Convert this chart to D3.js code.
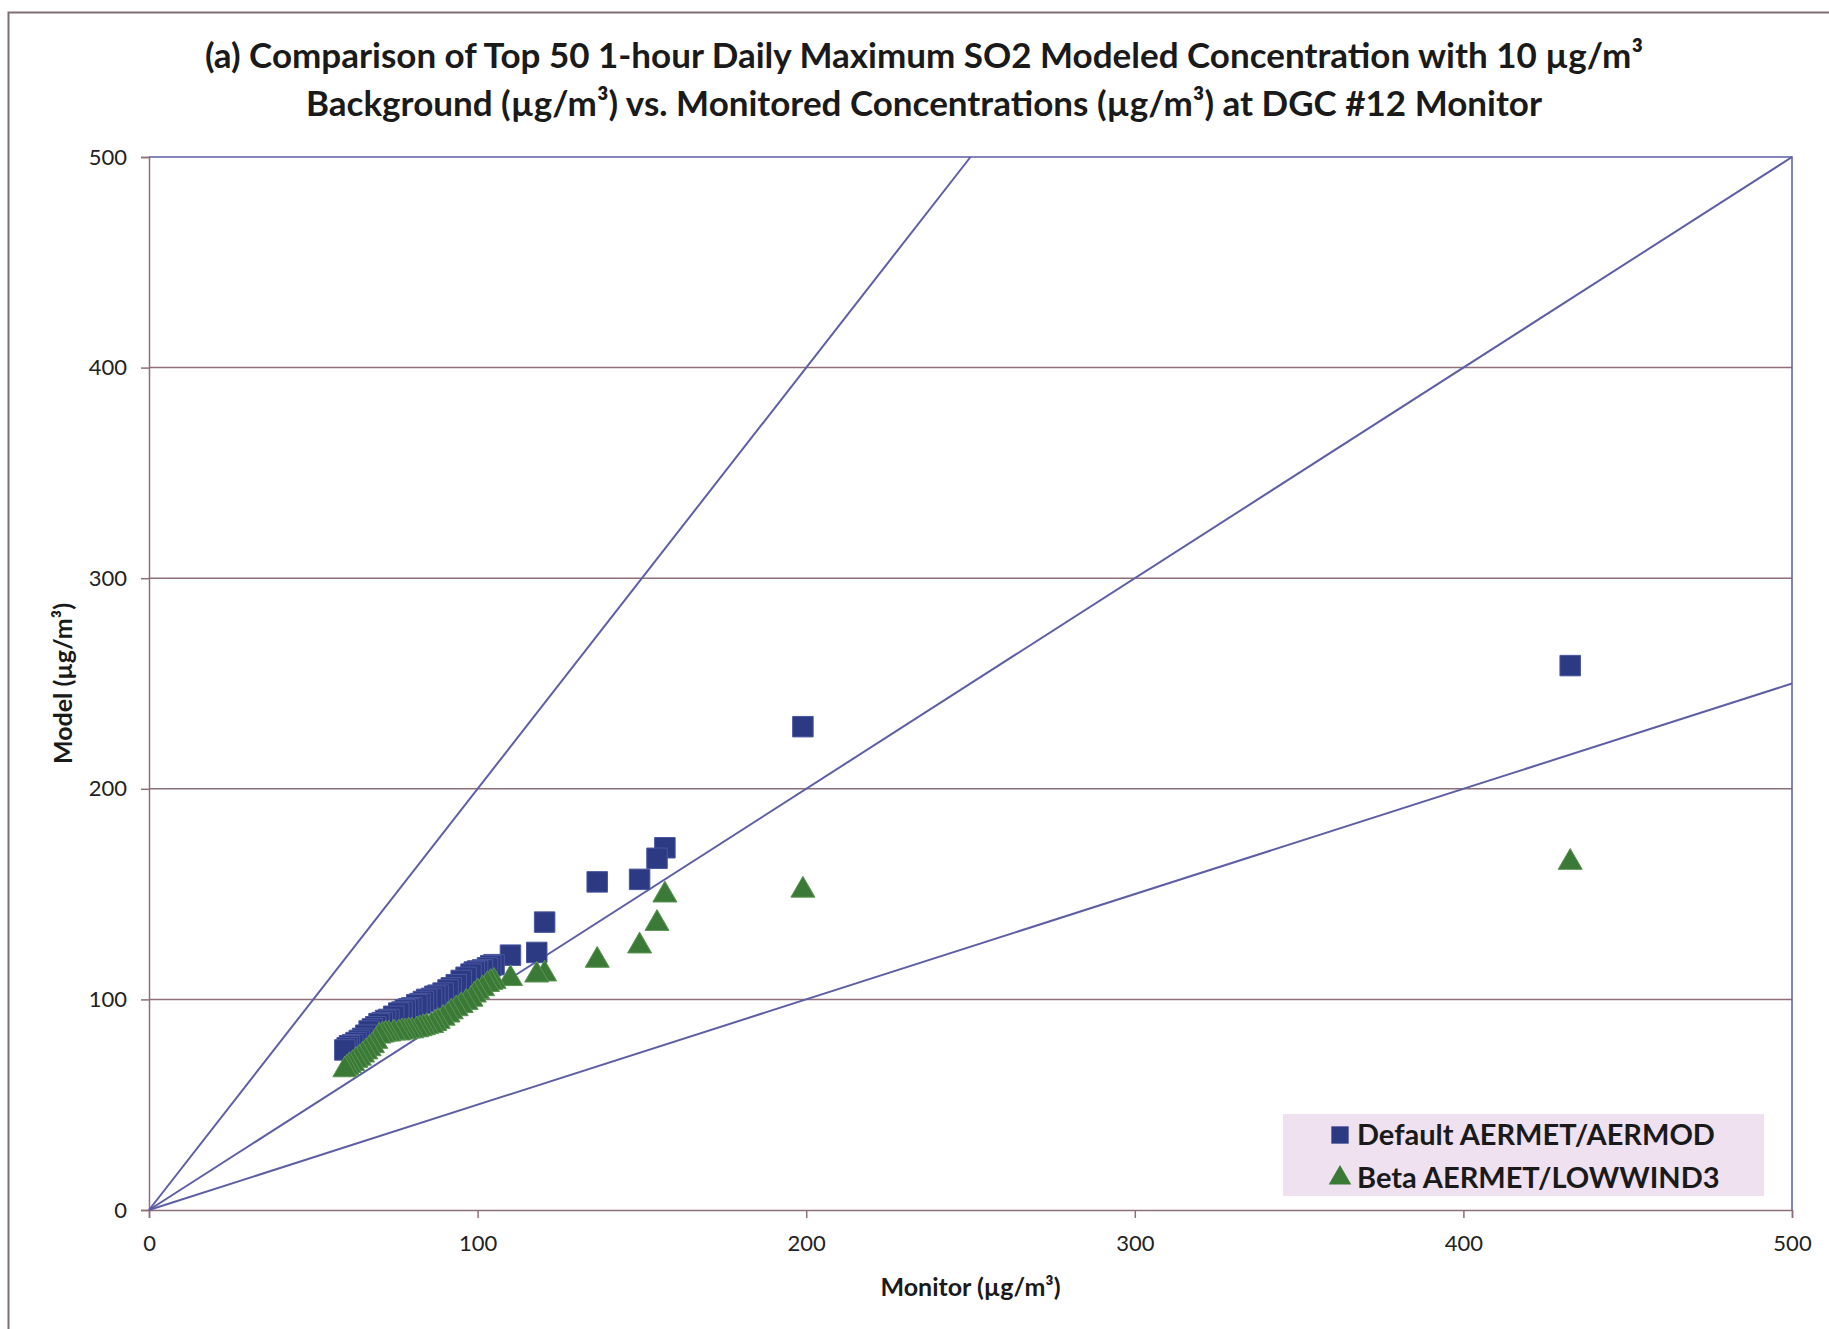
<!DOCTYPE html>
<html>
<head>
<meta charset="utf-8">
<script src="https://cdn.jsdelivr.net/npm/d3@7"></script>
<style>
  body { margin: 0; background: #fff; }
  svg { display: block; }
</style>
</head>
<body>
<div id="chart"></div>
<script>
// Monitor concentrations (ranked, µg/m³), shared by both series
const monitor = [432.5, 199, 157, 154.6, 149.3, 136.4, 120.4, 118, 110,
  105, 104, 103, 101.5, 100, 99, 98, 96.5, 95, 93.5, 92, 91, 89.5, 88, 87,
  86, 84.5, 83.5, 82.5, 81.5, 80, 79, 78, 77, 76, 74.5, 73, 72, 71, 70,
  69, 68, 67, 66, 65, 64, 63, 62, 61, 60.3, 59.6];

// Default AERMET/AERMOD modeled values
const aermod = [258.5, 229.5, 172, 167, 157, 155.8, 136.7, 122.3, 121,
  116.5, 116, 115, 114, 113.5, 113, 112, 110.5, 109, 107, 105.5, 104.5, 103,
  102, 101.5, 100.5, 100, 99, 98, 97.5, 96, 95.5, 95, 94, 93.5, 92, 90.5,
  90, 89, 88.5, 87, 86, 85, 83, 81.5, 80.5, 79.5, 78.5, 78, 77, 76];

// Beta AERMET/LOWWIND3 modeled values
const lowwind = [166, 152.8, 150.5, 137, 126.3, 119.5, 113, 112.5, 110.8,
  109.5, 109, 108, 106, 104.5, 103, 101, 99.5, 98, 96.5, 95, 93.5, 92, 90.5,
  89.5, 88.5, 88, 87.5, 87, 86.5, 86, 86, 85.5, 85.5, 85, 85, 84.5, 84.5, 84,
  83.5, 81, 79, 77.5, 76, 74.5, 73, 72, 70.5, 69.5, 68.5, 67.5];

const ratios = [2, 1, 0.5];
const ticks = [0, 100, 200, 300, 400, 500];
const seriesNames = ['Default AERMET/AERMOD', 'Beta AERMET/LOWWIND3'];
const titleLines = [
  '(a) Comparison of Top 50 1-hour Daily Maximum SO2 Modeled Concentration with 10 \u00b5g/m\u00b3',
  'Background (\u00b5g/m\u00b3) vs. Monitored Concentrations (\u00b5g/m\u00b3) at DGC #12 Monitor'
];

const width = 1829, height = 1329;
const margin = { left: 149, top: 157, right: 37, bottom: 119 };
const blue = '#2c3a84', green = '#3a7a36', lineColor = '#5e5ea6', gridColor = '#8e6f78';
const font = 'Lato, "Open Sans", sans-serif';

const svg = d3.select('#chart')
  .append('svg')
  .attr('width', width)
  .attr('height', height);

// Outer chart frame
svg.append('rect')
  .attr('x', 8.5).attr('y', 12.5)
  .attr('width', width + 20).attr('height', height + 20)
  .attr('fill', 'none')
  .attr('stroke', '#7e6e74')
  .attr('stroke-width', 2);

const x = d3.scaleLinear().domain([0, 500]).range([margin.left, width - margin.right]);
const y = d3.scaleLinear().domain([0, 500]).range([height - margin.bottom, margin.top]);

// Title
svg.append('g')
  .selectAll('text')
  .data(titleLines)
  .enter().append('text')
  .attr('x', 924)
  .attr('y', (d, i) => 68 + i * 48)
  .attr('text-anchor', 'middle')
  .style('font-family', font)
  .style('font-size', '35px')
  .style('font-weight', '700')
  .style('fill', '#1a1a1a')
  .text(d => d);

// Horizontal grid lines
svg.append('g')
  .selectAll('line')
  .data(ticks.slice(1, -1))
  .enter().append('line')
  .attr('x1', x(0)).attr('x2', x(500))
  .attr('y1', d => y(d)).attr('y2', d => y(d))
  .attr('stroke', gridColor)
  .attr('stroke-width', 1.5);

// Plot border top/right
svg.append('path')
  .attr('d', `M${x(0)},${y(500)}H${x(500)}V${y(0)}`)
  .attr('fill', 'none')
  .attr('stroke', lineColor)
  .attr('stroke-width', 1.5);

// Axes
const xAxis = svg.append('g')
  .attr('transform', `translate(0,${y(0)})`)
  .call(d3.axisBottom(x).tickValues(ticks).tickSize(8).tickPadding(17));
const yAxis = svg.append('g')
  .attr('transform', `translate(${x(0)},0)`)
  .call(d3.axisLeft(y).tickValues(ticks).tickSize(8).tickPadding(14));

[xAxis, yAxis].forEach(ax => {
  ax.select('.domain').attr('stroke', gridColor).attr('stroke-width', 1.5);
  ax.selectAll('.tick line').attr('stroke', gridColor).attr('stroke-width', 1.5);
  ax.selectAll('.tick text')
    .style('font-family', font)
    .style('font-size', '22px')
    .style('fill', '#222');
});

// Ratio lines y = 2x, y = x, y = 0.5x
const ratioLine = r => {
  const xEnd = Math.min(500, 500 / r);
  return [[0, 0], [xEnd, xEnd * r]];
};
svg.append('g')
  .selectAll('path')
  .data(ratios)
  .enter().append('path')
  .attr('d', r => d3.line().x(p => x(p[0])).y(p => y(p[1]))(ratioLine(r)))
  .attr('fill', 'none')
  .attr('stroke', lineColor)
  .attr('stroke-width', 2);

// Axis titles
svg.append('text')
  .attr('x', x(250))
  .attr('y', 1296)
  .attr('text-anchor', 'middle')
  .style('font-family', font)
  .style('font-size', '25px')
  .style('font-weight', '700')
  .style('fill', '#1a1a1a')
  .text('Monitor (\u00b5g/m\u00b3)');

svg.append('text')
  .attr('transform', `translate(72,${y(250)}) rotate(-90)`)
  .attr('text-anchor', 'middle')
  .style('font-family', font)
  .style('font-size', '25px')
  .style('font-weight', '700')
  .style('fill', '#1a1a1a')
  .text('Model (\u00b5g/m\u00b3)');

// Markers
const squareSym = d3.symbol().type(d3.symbolSquare).size(420);
const triSym = d3.symbol().type(d3.symbolTriangle).size(250);

svg.append('g')
  .selectAll('path')
  .data(monitor.map((m, i) => [m, aermod[i]]))
  .enter().append('path')
  .attr('d', squareSym)
  .attr('transform', d => `translate(${x(d[0])},${y(d[1])})`)
  .attr('fill', blue)
  .attr('stroke', '#4a56a0')
  .attr('stroke-width', 1);

svg.append('g')
  .selectAll('path')
  .data(monitor.map((m, i) => [m, lowwind[i]]))
  .enter().append('path')
  .attr('d', triSym)
  .attr('transform', d => `translate(${x(d[0])},${y(d[1]) + 2})`)
  .attr('fill', green)
  .attr('stroke', '#5a9452')
  .attr('stroke-width', 1);

// Legend
const legend = svg.append('g').attr('transform', 'translate(1283,1114)');
legend.append('rect')
  .attr('width', 481).attr('height', 82)
  .attr('fill', '#efe1f0');
const rows = legend.selectAll('g')
  .data(seriesNames)
  .enter().append('g')
  .attr('transform', (d, i) => `translate(0,${21 + i * 43})`);
rows.append('path')
  .attr('d', (d, i) => i === 0
    ? d3.symbol().type(d3.symbolSquare).size(300)()
    : d3.symbol().type(d3.symbolTriangle).size(220)())
  .attr('transform', 'translate(57,0)')
  .attr('fill', (d, i) => i === 0 ? blue : green);
rows.append('text')
  .attr('x', 74)
  .attr('dy', '0.35em')
  .style('font-family', font)
  .style('font-size', '29px')
  .style('font-weight', '700')
  .style('fill', '#1a1a1a')
  .text(d => d);
</script>
</body>
</html>
